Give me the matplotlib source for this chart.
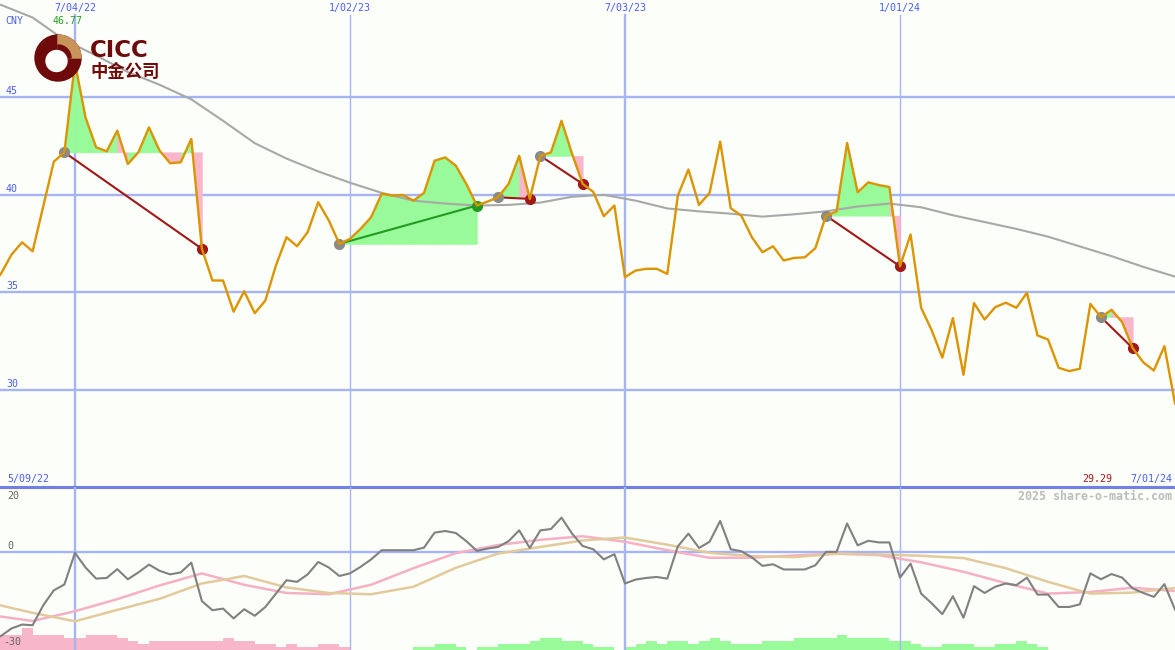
import matplotlib
matplotlib.use("Agg")
import matplotlib.dates as mdates
import matplotlib.pyplot as plt
import numpy as np
import pandas as pd
from matplotlib.patches import Circle, Wedge

# weekly closes (CNY), 9 May 2022 .. 1 Jul 2024
start, end = "2022-05-09", "2024-07-01"
close = [
    35.30, 35.94, 36.93, 37.56, 37.10, 39.40, 41.70, 42.18, 46.77, 43.97,
    42.44, 42.23, 43.29, 41.58, 42.18, 43.46, 42.27, 41.62, 41.67, 42.87,
    37.23, 35.60, 35.60, 34.00, 35.05, 33.92, 34.57, 36.37, 37.82, 37.36,
    38.08, 39.62, 38.68, 37.48, 37.74, 38.25, 38.85, 40.05, 39.96, 39.99,
    39.70, 40.10, 41.75, 41.92, 41.50, 40.56, 39.45, 39.65, 39.87, 40.56,
    42.00, 39.79, 42.00, 42.18, 43.80, 42.10, 40.56, 40.15, 38.90, 39.45,
    35.77, 36.11, 36.20, 36.20, 35.94, 39.96, 41.30, 39.48, 40.10, 42.73,
    39.31, 38.93, 37.82, 37.05, 37.36, 36.63, 36.76, 36.79, 37.26, 38.93,
    39.14, 42.66, 40.13, 40.64, 40.50, 40.40, 36.33, 37.96, 34.20, 33.04,
    31.64, 33.67, 30.76, 34.44, 33.60, 34.23, 34.46, 34.20, 34.97, 32.78,
    32.57, 31.12, 30.95, 31.07, 34.40, 33.72, 34.10, 33.46, 32.13, 31.40,
    30.98, 32.23, 29.29,
]
# long moving average, read every third week
ma_week = list(range(1, 113, 3))
ma_vals = [
    49.75, 49.10, 47.95, 47.15, 46.30, 45.65, 44.90, 43.80, 42.65, 41.86,
    41.20, 40.62, 40.10, 39.70, 39.55, 39.45, 39.48, 39.60, 39.90, 40.00,
    39.70, 39.30, 39.15, 39.03, 38.88, 39.00, 39.15, 39.40, 39.55, 39.36,
    38.95, 38.60, 38.25, 37.85, 37.35, 36.85, 36.30, 35.80,
]
# buy / sell week indices
trades = [(7, 20), (33, 46), (48, 51), (52, 56), (79, 86), (105, 108)]

# lower panel
momentum = [
    -27.0, -25.7, -23.4, -22.2, -22.4, -16.3, -11.7, -9.9, -0.2, -4.7,
    -8.1, -7.9, -5.2, -8.3, -6.2, -3.8, -5.7, -6.8, -6.2, -3.2,
    -15.0, -17.8, -17.3, -20.3, -17.5, -19.5, -16.8, -12.7, -8.6, -9.1,
    -6.8, -3.0, -4.7, -7.3, -6.5, -4.5, -2.2, 0.6, 0.6, 0.6,
    0.6, 1.4, 6.0, 6.5, 5.9, 3.4, 0.4, 1.1, 1.6, 3.4,
    6.7, 1.3, 6.7, 7.1, 10.6, 5.7, 1.9, 0.9, -2.2, -0.6,
    -9.6, -8.4, -7.9, -7.6, -8.1, 1.8, 5.7, 1.3, 3.2, 9.6,
    0.9, 0.3, -1.6, -4.2, -3.7, -5.3, -5.3, -5.3, -4.0, 0.1,
    0.1, 8.8, 2.1, 3.5, 3.0, 3.0, -7.8, -3.5, -12.7, -15.7,
    -19.0, -13.5, -20.1, -10.4, -12.5, -10.6, -9.6, -10.1, -7.8, -13.0,
    -13.0, -16.8, -16.8, -16.0, -6.5, -8.3, -6.7, -7.8, -11.1, -12.5,
    -13.7, -9.8, -17.6,
]
slow_week = list(range(0, 113, 4))
pink_vals = [
    -19.3, -21.1, -18.1, -14.4, -10.2, -6.5, -10.0, -12.5, -12.9, -10.0,
    -4.9, -0.3, 2.2, 3.8, 4.9, 3.2, 0.6, -1.7, -1.7, -1.0,
    -0.4, -0.9, -3.1, -6.0, -9.5, -12.7, -12.2, -10.9, -11.9,
]
tan_vals = [
    -15.6, -18.6, -21.2, -17.7, -14.3, -9.6, -7.3, -10.8, -12.5, -12.9,
    -10.6, -4.8, -0.4, 1.6, 3.6, 4.5, 2.3, -0.2, -1.2, -1.5,
    -0.5, -0.7, -1.1, -1.8, -4.9, -9.1, -12.7, -12.4, -11.0,
]
# weekly bars, negative = pink, positive = green
bars = [
    -4.6, -4.6, -4.6, -6.7, -4.6, -4.6, -4.6, -3.6, -3.6, -4.6,
    -4.6, -4.6, -3.6, -2.8, -1.8, -2.8, -2.8, -2.8, -2.8, -2.8,
    -2.8, -2.8, -3.7, -2.8, -2.8, -1.8, -1.8, -0.9, -1.8, -0.9,
    -0.9, -1.8, -1.8, -0.9, 0, 0, 0, 0, 0, 0,
    0.9, 0.9, 1.8, 1.8, 0.9, 0, 0.9, 0.9, 1.8, 1.8,
    1.8, 2.8, 3.7, 3.7, 2.8, 2.8, 1.8, 0.9, 0.9, 0,
    0.9, 1.8, 2.8, 1.8, 2.8, 2.8, 1.8, 2.8, 3.7, 2.8,
    1.8, 1.8, 1.8, 2.8, 2.8, 2.8, 3.7, 3.7, 3.7, 3.7,
    4.6, 3.7, 3.7, 3.7, 3.7, 2.8, 2.8, 1.8, 0.9, 0.9,
    1.8, 1.8, 1.8, 0.9, 0.9, 1.8, 1.8, 2.8, 1.8, 0.9,
    0, 0, 0, 0, 0, 0, 0, 0, 0, 0, 0, 0, 0,
]

price_grid = [30, 35, 40, 45]
tick_dates = ["2022-07-04", "2023-01-02", "2023-07-03", "2024-01-01"]
tick_labels = ["7/04/22", "1/02/23", "7/03/23", "1/01/24"]

BG = "#fcfefa"
GRID = "#a4b4f4"
LABEL = "#4a5ef0"
GREEN_FILL = "#98fa98"
PINK_FILL = "#f8b6ca"
LOSS = "#a01818"
GAIN = "#239b23"
LOGO_RED = "#6e0a0a"
MONO = "DejaVu Sans Mono"

dates = pd.date_range(start, end, freq="7D")
x = mdates.date2num(dates)
close = np.array(close)
xlim = (x[0] + 6.4, x[-1])

fig = plt.figure(figsize=(11.75, 6.5), dpi=100, facecolor=BG)
ax = fig.add_axes([0, 163 / 650, 1, 487 / 650])
ax2 = fig.add_axes([0, 0, 1, 163 / 650])
for a in (ax, ax2):
    a.axis("off")
    a.set_xlim(*xlim)
ax.set_ylim(25, 50)
ax2.set_ylim(-30, 20)

# ---- upper panel: price
for lvl in price_grid:
    ax.axhline(lvl, color=GRID, lw=1.7, zorder=1)
    ax.annotate(str(lvl), (0, lvl), xycoords=("axes fraction", "data"),
                xytext=(6, 3), textcoords="offset pixels", ha="left", va="baseline",
                fontsize=7.2, family=MONO, color=LABEL)

for d, lab in zip(tick_dates, tick_labels):
    ts = pd.Timestamp(d)
    xd = mdates.date2num(ts)
    lw = 1.7 if ts.month == 7 else 1.0
    ax.axvline(xd, ymax=0.969, color=GRID, lw=lw, zorder=1)
    ax2.axvline(xd, color=GRID, lw=lw, zorder=2)
    ax.annotate(lab, (xd, 1), xycoords=("data", "axes fraction"), xytext=(0, -8),
                textcoords="offset pixels", ha="center", va="center",
                fontsize=7.2, family=MONO, color=LABEL)

for b, s in trades:
    base = close[b]
    for k in range(b, s):
        col = GREEN_FILL if close[k + 1] >= base else PINK_FILL
        ax.fill_between(x[k:k + 2], close[k:k + 2], base, color=col,
                        lw=0.4, edgecolor=col, zorder=2)

ax.plot(x[ma_week], ma_vals, color="#a8a8a8", lw=1.5, zorder=3)

for b, s in trades:
    col = GAIN if close[s] > close[b] else LOSS
    ax.plot([x[b], x[s]], [close[b], close[s]], color=col, lw=1.5, zorder=3.5)
    ax.plot(x[b], close[b], "o", ms=7, color="#8a8a8a", zorder=4)
    ax.plot(x[s], close[s], "o", ms=7, color=col, zorder=4)

ax.plot(x, close, color="#dc9400", lw=1.7, zorder=5)

ax.axhline(25, color="#7080e8", lw=2.2, zorder=7, clip_on=False)

imax = int(np.argmax(close))
ax.annotate("CNY", (0, 1), xycoords="axes fraction", xytext=(5, -21),
            textcoords="offset pixels", ha="left", va="center",
            fontsize=7.2, family=MONO, color=LABEL)
ax.annotate(f"{close[imax]:.2f}", (x[imax], 1), xycoords=("data", "axes fraction"),
            xytext=(8, -21), textcoords="offset pixels", ha="right", va="center",
            fontsize=7.2, family=MONO, color="#22a022")
ax.annotate(dates[0].strftime("%-m/%d/%y"), (0, 0), xycoords="axes fraction",
            xytext=(7, 8), textcoords="offset pixels", ha="left", va="center",
            fontsize=7.2, family=MONO, color=LABEL)
ax.annotate(dates[-1].strftime("%-m/%d/%y"), (1, 0), xycoords="axes fraction",
            xytext=(-3, 8), textcoords="offset pixels", ha="right", va="center",
            fontsize=7.2, family=MONO, color=LABEL)
ax.annotate(f"{close[-1]:.2f}", (1, 0), xycoords="axes fraction",
            xytext=(-63, 8), textcoords="offset pixels", ha="right", va="center",
            fontsize=7.2, family=MONO, color=LOSS)

# ---- lower panel
bar_cols = [GREEN_FILL if v > 0 else PINK_FILL for v in bars]
ax2.bar(x, np.abs(bars), width=7, bottom=-30, align="edge", color=bar_cols,
        lw=0, zorder=1)
ax2.axhline(0, color=GRID, lw=1.7, zorder=2)
ax2.plot(x[slow_week], pink_vals, color="#f6b0c6", lw=1.8, zorder=3)
ax2.plot(x[slow_week], tan_vals, color="#e2ca9c", lw=1.8, zorder=3)
ax2.plot(x, momentum, color="#808080", lw=1.5, zorder=4)

ax2.annotate("20", (0, 1), xycoords="axes fraction", xytext=(7, -9),
             textcoords="offset pixels", ha="left", va="center",
             fontsize=7.2, family=MONO, color="#666666")
ax2.annotate("0", (0, 0), xycoords=("axes fraction", "data"), xytext=(7, 6),
             textcoords="offset pixels", ha="left", va="center",
             fontsize=7.2, family=MONO, color="#666666")
ax2.annotate("-30", (0, 0), xycoords="axes fraction", xytext=(3, 8),
             textcoords="offset pixels", ha="left", va="center",
             fontsize=7.2, family=MONO, color="#666666")
ax2.annotate("2025 share-o-matic.com", (1, 1), xycoords="axes fraction",
             xytext=(-3, -9), textcoords="offset pixels", ha="right", va="center",
             fontsize=8.4, family=MONO, fontweight="bold", color="#bcbcbc")

# ---- logo (pixel coordinates)
lax = fig.add_axes([30 / 1175, 1 - 90 / 650, 140 / 1175, 60 / 650])
lax.set_xlim(30, 170)
lax.set_ylim(90, 30)
lax.axis("off")
lax.add_patch(Circle((58, 58), 23, color=LOGO_RED))
lax.add_patch(Wedge((58, 58), 23, -90, 0, color="#c8945a"))
lax.add_patch(Wedge((58, 58), 13, -90, 0, color=LOGO_RED))
lax.add_patch(Circle((56.5, 61), 10.5, color=BG))
lax.text(90, 57, "CICC", fontsize=16.5, fontweight="bold", color=LOGO_RED,
         ha="left", va="baseline")
lax.text(90, 77, "中金公司", fontsize=12.5, fontweight="bold", color=LOGO_RED,
         ha="left", va="baseline", family=["Noto Sans CJK SC", "DejaVu Sans"])

fig.savefig("out.png", dpi=100, facecolor=BG)
